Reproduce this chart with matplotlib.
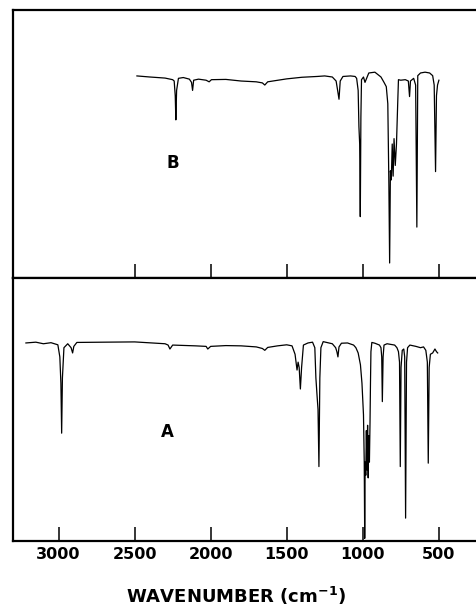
import matplotlib
matplotlib.use("Agg")
import matplotlib.pyplot as plt

plt.rcParams['font.family'] = ['DejaVu Sans']
plt.rcParams['mathtext.fontset'] = 'custom'
plt.rcParams['mathtext.rm'] = 'DejaVu Sans:bold'
plt.rcParams['mathtext.default'] = 'rm'

# Spectrum B (upper panel): wavenumber (cm-1), relative transmittance (%)
wn_B = [2485, 2400, 2300, 2250, 2240, 2233, 2229, 2224, 2212, 2180, 2140, 2126,
        2119, 2112, 2080, 2030, 2010, 1995, 1900, 1800, 1700, 1660, 1644, 1625,
        1580, 1500, 1400, 1300, 1250, 1200, 1175, 1165, 1156, 1148, 1130, 1080,
        1050, 1040, 1030, 1025, 1020, 1016, 1012, 1008, 995, 985, 978, 960,
        920, 880, 860, 845, 835, 828, 823, 818, 812, 806, 800, 794, 786, 778,
        770, 765, 750, 720, 700, 692, 686, 665, 652, 644, 638, 620, 590, 560,
        540, 530, 521, 515, 508, 499]
tr_B = [75.4, 75.0, 74.6, 74.0, 73.5, 68.0, 59.0, 70.0, 74.5, 74.8, 74.2, 73.0,
        70.0, 73.8, 74.2, 73.8, 73.2, 74.0, 74.1, 73.5, 73.2, 72.8, 72.0, 73.2,
        73.6, 74.3, 74.9, 75.2, 75.4, 75.0, 73.5, 70.0, 66.7, 73.5, 75.2, 75.4,
        75.2, 74.5, 70.0, 56.5, 50.0, 22.9, 60.0, 74.0, 75.0, 73.0, 74.0, 76.5,
        76.8, 75.0, 73.0, 71.4, 65.0, 35.0, 5.6, 40.0, 36.6, 50.0, 38.0, 52.0,
        42.0, 50.0, 65.0, 74.0, 73.8, 74.0, 73.5, 67.7, 73.5, 74.5, 72.0, 19.0,
        75.5, 76.5, 76.8, 76.5, 75.5, 72.0, 39.7, 68.0, 72.0, 73.8]

# Spectrum A (lower panel)
wn_A = [3215, 3150, 3100, 3050, 3005, 2992, 2985, 2980, 2975, 2965, 2940, 2918,
        2908, 2900, 2880, 2700, 2500, 2300, 2280, 2268, 2250, 2100, 2030, 2019,
        2000, 1900, 1800, 1700, 1660, 1644, 1625, 1560, 1500, 1465, 1445, 1432,
        1425, 1418, 1410, 1402, 1390, 1360, 1330, 1315, 1308, 1300, 1294, 1288,
        1282, 1275, 1260, 1200, 1178, 1170, 1163, 1156, 1140, 1100, 1060, 1045,
        1030, 1015, 1005, 995, 990, 987, 984, 980, 976, 972, 968, 964,
        960, 956, 952, 949, 946, 940, 920, 890, 880, 875, 871, 866,
        860, 840, 790, 775, 765, 758, 753, 748, 740, 730, 724, 718,
        712, 705, 690, 650, 620, 600, 585, 575, 569, 563, 555, 540,
        525, 515, 507]
tr_A = [75.3, 75.6, 75.0, 75.4, 74.6, 70.0, 60.0, 41.0, 62.0, 73.5, 75.0, 73.5,
        71.5, 74.0, 75.5, 75.6, 75.7, 75.0, 74.5, 73.0, 74.5, 74.2, 74.0, 73.0,
        74.0, 74.3, 74.2, 73.8, 73.2, 72.5, 73.6, 74.2, 74.6, 74.2, 71.0, 65.0,
        68.0, 66.0, 57.8, 66.0, 74.5, 75.3, 75.6, 73.5, 62.0, 55.0, 50.0, 28.3,
        62.0, 73.5, 75.8, 75.0, 73.5, 72.0, 70.0, 73.8, 75.2, 75.3, 74.5, 73.5,
        71.5, 67.0, 60.0, 48.0, 30.0, 1.0, 30.0, 25.0, 42.0, 27.0, 44.0, 24.0,
        40.0, 30.0, 45.0, 60.0, 72.0, 75.5, 75.2, 74.5, 73.5, 70.0, 53.0, 70.0,
        74.5, 75.0, 74.5, 73.5, 72.0, 68.0, 28.3, 66.0, 72.5, 73.0, 70.0, 8.7,
        68.0, 73.5, 74.5, 74.0, 73.5, 73.8, 72.5, 68.0, 29.6, 66.0, 71.0, 71.5,
        73.0, 72.0, 71.5]

ticks_B = [2500, 2000, 1500, 1000, 500]
ticks_A = [3000, 2500, 2000, 1500, 1000, 500]
tick_labels_A = ['3000', '2500', '2000', '1500', '1000', '500']

W, H = 476, 615
fig = plt.figure(figsize=(W / 100, H / 100), dpi=100)

left = 13 / W
width = 1.0 - left
axB = fig.add_axes([left, (H - 278) / H, width, 268 / H])
axA = fig.add_axes([left, (H - 541) / H, width, 263 / H])

for ax in (axB, axA):
    ax.set_xlim(3300, 255)
    ax.set_ylim(0, 100)
    ax.set_yticks([])
    ax.spines['right'].set_visible(False)
    for s in ('left', 'top', 'bottom'):
        ax.spines[s].set_linewidth(1.6)
    ax.tick_params(axis='x', direction='in', length=10, width=1.1, pad=4.3)

axB.plot(wn_B, tr_B, color='black', lw=0.9)
axA.plot(wn_A, tr_A, color='black', lw=0.9)

axB.set_xticks(ticks_B)
axB.set_xticklabels([])
axA.set_xticks(ticks_A)
axA.set_xticklabels(tick_labels_A, fontsize=11.5, fontweight='bold')

axB.text(2249, 42.9, 'B', fontsize=12, fontweight='bold', ha='center', va='center')
axA.text(2288, 41.4, 'A', fontsize=12, fontweight='bold', ha='center', va='center')

fig.text(236 / W, (H - 596) / H, r'WAVENUMBER (cm$^{-1}$)', fontsize=13,
         fontweight='bold', ha='center', va='center')

fig.savefig('out.png', dpi=100)
